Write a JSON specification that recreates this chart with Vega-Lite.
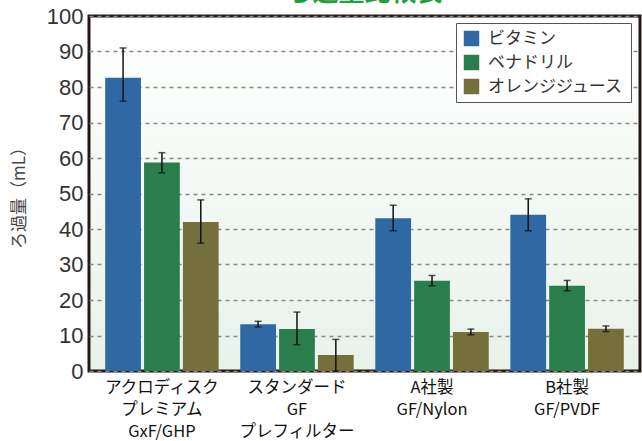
{
  "$schema": "https://vega.github.io/schema/vega-lite/v6.json",
  "width": 551,
  "height": 355,
  "autosize": {"type": "none"},
  "padding": {"left": 89, "top": 16, "right": 2, "bottom": 70},
  "title": {"text": "ろ過量比較表", "color": "#22a040", "fontSize": 26, "font": "Noto Sans CJK JP", "fontWeight": "bold", "anchor": "middle", "offset": -1},
  "data": {"values": [
    {"group": "アクロディスク|プレミアム|GxF/GHP", "series": "ビタミン", "value": 82.6, "lo": 76.0, "hi": 91.0},
    {"group": "アクロディスク|プレミアム|GxF/GHP", "series": "ベナドリル", "value": 58.7, "lo": 55.8, "hi": 61.5},
    {"group": "アクロディスク|プレミアム|GxF/GHP", "series": "オレンジジュース", "value": 42.0, "lo": 36.0, "hi": 48.2},
    {"group": "スタンダード|GF|プレフィルター", "series": "ビタミン", "value": 13.2, "lo": 12.4, "hi": 14.0},
    {"group": "スタンダード|GF|プレフィルター", "series": "ベナドリル", "value": 11.8, "lo": 7.4, "hi": 16.6},
    {"group": "スタンダード|GF|プレフィルター", "series": "オレンジジュース", "value": 4.5, "lo": 0.0, "hi": 8.9},
    {"group": "A社製|GF/Nylon", "series": "ビタミン", "value": 43.0, "lo": 39.5, "hi": 46.7},
    {"group": "A社製|GF/Nylon", "series": "ベナドリル", "value": 25.4, "lo": 24.0, "hi": 26.9},
    {"group": "A社製|GF/Nylon", "series": "オレンジジュース", "value": 11.0, "lo": 10.2, "hi": 11.8},
    {"group": "B社製|GF/PVDF", "series": "ビタミン", "value": 44.0, "lo": 39.5, "hi": 48.5},
    {"group": "B社製|GF/PVDF", "series": "ベナドリル", "value": 24.0, "lo": 22.6, "hi": 25.5},
    {"group": "B社製|GF/PVDF", "series": "オレンジジュース", "value": 11.9, "lo": 11.1, "hi": 12.7}
  ]},
  "encoding": {
    "x": {"field": "group", "type": "nominal", "sort": null,
      "scale": {"paddingInner": 0.16, "paddingOuter": 0.12},
      "axis": {"title": null, "labelAngle": 0, "labelExpr": "split(datum.label, '|')", "labelFontSize": 16.5, "labelLineHeight": 22, "labelColor": "#111", "labelFont": "Noto Sans CJK JP", "labelFontWeight": "normal", "labelPadding": 8, "ticks": false, "domain": false, "labelBaseline": "top"}},
    "xOffset": {"field": "series", "type": "nominal", "sort": ["ビタミン", "ベナドリル", "オレンジジュース"], "scale": {"paddingInner": 0.08}}
  },
  "layer": [
    {
      "mark": {"type": "bar"},
      "encoding": {
        "y": {"field": "value", "type": "quantitative", "scale": {"domain": [0, 100]},
          "axis": {"title": "ろ過量（mL）"}},
        "color": {"field": "series", "type": "nominal", "sort": ["ビタミン", "ベナドリル", "オレンジジュース"],
          "scale": {"range": ["#2f68a3", "#2a7e4b", "#756f3b"]},
          "legend": {"title": null, "orient": "none", "legendX": 367, "legendY": 7, "direction": "vertical",
            "fillColor": "#ffffff", "strokeColor": "#555", "padding": 7, "symbolType": "square", "symbolSize": 240,
            "symbolStrokeWidth": 0, "labelFontSize": 17, "labelFont": "Noto Sans CJK JP", "labelColor": "#333", "rowPadding": 6, "labelOffset": 8}}
      }
    },
    {
      "mark": {"type": "rule", "color": "#111", "strokeWidth": 1.5},
      "encoding": {"y": {"field": "lo", "type": "quantitative"}, "y2": {"field": "hi"}}
    },
    {
      "mark": {"type": "tick", "color": "#111", "thickness": 1.5, "size": 7},
      "encoding": {"y": {"field": "lo", "type": "quantitative"}}
    },
    {
      "mark": {"type": "tick", "color": "#111", "thickness": 1.5, "size": 7},
      "encoding": {"y": {"field": "hi", "type": "quantitative"}}
    }
  ],
  "config": {
    "axisY": {"labelOverlap": false, "values": [0,10,20,30,40,50,60,70,80,90,100],
      "titleFont": "Noto Sans CJK JP", "titleFontSize": 17, "titleFontWeight": "normal", "titleColor": "#444", "titlePadding": 18,
      "labelFontSize": 22, "labelFont": "Liberation Sans", "labelColor": "#333", "labelPadding": 6,
      "ticks": false, "domain": false, "grid": true, "gridDash": [4, 4], "gridColor": "#888", "gridWidth": 1.5},
    "view": {"stroke": "#231815", "strokeWidth": 3,
      "fill": {"gradient": "linear", "x1": 0, "y1": 0, "x2": 0, "y2": 1, "stops": [{"offset": 0, "color": "#ffffff"}, {"offset": 1, "color": "#e7f2e9"}]}},
    "background": "#ffffff"
  }
}
